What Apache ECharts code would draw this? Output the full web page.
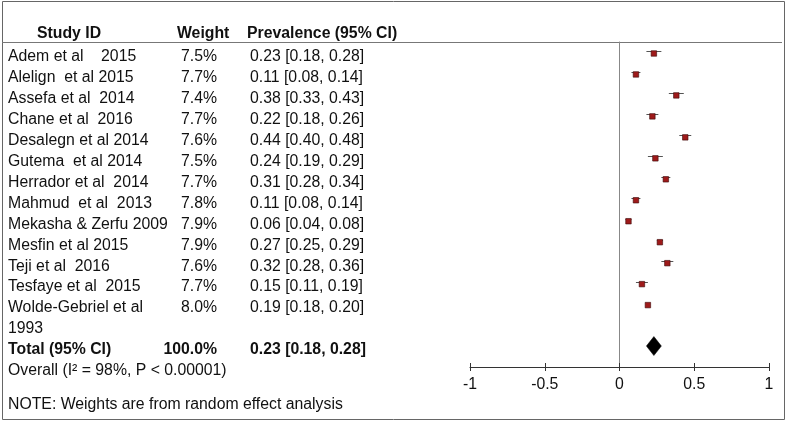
<!DOCTYPE html>
<html><head><meta charset="utf-8">
<script src="https://cdn.jsdelivr.net/npm/echarts@6/dist/echarts.min.js"></script>
<style>html,body{margin:0;padding:0;background:#fff}#c{width:787px;height:422px}</style>
</head><body><div id="c"></div>
<script>
const studyNames = [
  'Adem et al    2015',
  'Alelign  et al 2015',
  'Assefa et al  2014',
  'Chane et al  2016',
  'Desalegn et al 2014',
  'Gutema  et al 2014',
  'Herrador et al  2014',
  'Mahmud  et al  2013',
  'Mekasha & Zerfu 2009',
  'Mesfin et al 2015',
  'Teji et al  2016',
  'Tesfaye et al  2015',
  'Wolde-Gebriel et al\n1993'
];
const weights   = [7.5, 7.7, 7.4, 7.7, 7.6, 7.5, 7.7, 7.8, 7.9, 7.9, 7.6, 7.7, 8.0];
const estimates = [0.23, 0.11, 0.38, 0.22, 0.44, 0.24, 0.31, 0.11, 0.06, 0.27, 0.32, 0.15, 0.19];
const lowerCI   = [0.18, 0.08, 0.33, 0.18, 0.40, 0.19, 0.28, 0.08, 0.04, 0.25, 0.28, 0.11, 0.18];
const upperCI   = [0.28, 0.14, 0.43, 0.26, 0.48, 0.29, 0.34, 0.14, 0.08, 0.29, 0.36, 0.19, 0.20];
const totalLabel = 'Total (95% CI)';
const totalWeight = 100.0;
const totalEstimate = 0.23;
const totalLower = 0.18;
const totalUpper = 0.28;
const overallText = 'Overall (I\u00B2 = 98%, P < 0.00001)';
const noteText = 'NOTE: Weights are from random effect analysis';
const headers = ['Study ID', 'Weight', 'Prevalence (95% CI)'];
const xTicks = [-1, -0.5, 0, 0.5, 1];

const FONT = "'Liberation Sans', Arial, sans-serif";
const FS = 15.8;
const fmtPrev = (e, l, h) => e.toFixed(2) + ' [' + l.toFixed(2) + ', ' + h.toFixed(2) + ']';

// Build table rows (row index = position on the row axis)
const rows = [];
const studyRow = [];
studyNames.forEach((n, i) => {
  const parts = n.split('\n');
  studyRow.push(rows.length);
  rows.push({ name: parts[0], weight: weights[i].toFixed(1) + '%', prev: fmtPrev(estimates[i], lowerCI[i], upperCI[i]) });
  for (let k = 1; k < parts.length; k++) rows.push({ name: parts[k], weight: '', prev: '' });
});
const totalRow = rows.length;
rows.push({ name: totalLabel, weight: totalWeight.toFixed(1) + '%', prev: fmtPrev(totalEstimate, totalLower, totalUpper), bold: true });
rows.push({ name: overallText, weight: '', prev: '' });
const lastRow = rows.length - 1;

function rowText(field) {
  return function (v) {
    const r = Math.round(v);
    if (Math.abs(v - r) > 1e-6 || r < 0 || r >= rows.length) return '';
    const t = rows[r][field];
    if (!t) return '';
    return rows[r].bold ? '{b|' + t + '}' : t;
  };
}

const GRID_LEFT = 470;
function colAxis(field, margin, align) {
  return {
    type: 'value', gridIndex: 0, position: 'left', inverse: true,
    min: -0.5, max: lastRow, interval: 0.5,
    axisLine: { show: false, onZero: false }, axisTick: { show: false }, splitLine: { show: false },
    axisLabel: {
      show: true, margin: margin, align: align, fontSize: FS, color: '#111', fontFamily: FONT,
      padding: [8, 0, 0, 0], formatter: rowText(field),
      rich: { b: { fontWeight: 'bold', fontSize: FS, color: '#111', fontFamily: FONT } }
    }
  };
}

const titleStyle = { fontSize: FS, fontWeight: 'bold', color: '#111', fontFamily: FONT };
const option = {
  animation: false,
  backgroundColor: '#fff',
  title: [
    { text: headers[0], left: 37, top: 26, padding: 0, textStyle: titleStyle },
    { text: headers[1], left: 177, top: 26, padding: 0, textStyle: titleStyle },
    { text: headers[2], left: 247, top: 26, padding: 0, textStyle: titleStyle },
    { text: noteText, left: 8, top: 397, padding: 0, textStyle: { fontSize: FS, fontWeight: 'normal', color: '#111', fontFamily: FONT } }
  ],
  graphic: [
    { type: 'rect', silent: true, shape: { x: 2.5, y: 1.5, width: 782, height: 418 }, style: { fill: 'none', stroke: '#666', lineWidth: 1 } },
    { type: 'line', silent: true, shape: { x1: 2, y1: 42.5, x2: 782, y2: 42.5 }, style: { stroke: '#777', lineWidth: 1 } }
  ],
  grid: { left: GRID_LEFT, right: 18, top: 42, bottom: 55, containLabel: false },
  xAxis: [
    {
      type: 'value', position: 'bottom', min: xTicks[0], max: xTicks[xTicks.length - 1], interval: xTicks[1] - xTicks[0],
      axisLine: { show: true, onZero: false, lineStyle: { color: '#333', width: 1 } },
      axisTick: { show: true, inside: false, length: 4, lineStyle: { color: '#333', width: 1 } },
      axisLabel: { fontSize: FS, color: '#111', fontFamily: FONT, margin: 10 },
      splitLine: { show: false }
    },
    {
      type: 'value', position: 'bottom', min: xTicks[0], max: xTicks[xTicks.length - 1], interval: xTicks[1] - xTicks[0],
      axisLine: { show: false, onZero: false },
      axisTick: { show: true, inside: true, length: 4, lineStyle: { color: '#333', width: 1 } },
      axisLabel: { show: false }, splitLine: { show: false }
    }
  ],
  yAxis: [
    colAxis('name', GRID_LEFT - 8, 'left'),
    colAxis('weight', GRID_LEFT - 217, 'right'),
    colAxis('prev', GRID_LEFT - 250, 'left'),
    {
      // line of no effect: sits on x = 0
      type: 'value', gridIndex: 0, position: 'left', inverse: true,
      min: -0.5, max: lastRow, interval: 0.5,
      axisLine: { show: true, onZero: true, onZeroAxisIndex: 0, lineStyle: { color: '#888', width: 1 } },
      axisTick: { show: false }, axisLabel: { show: false }, splitLine: { show: false }
    }
  ],
  series: [
    {
      type: 'custom', xAxisIndex: 0, yAxisIndex: 0, silent: true,
      data: studyNames.map((_, i) => [lowerCI[i], upperCI[i], studyRow[i]]),
      encode: { x: [0, 1], y: 2 },
      renderItem: function (params, api) {
        const p1 = api.coord([api.value(0), api.value(2)]);
        const p2 = api.coord([api.value(1), api.value(2)]);
        const y = Math.round(p1[1]) - 0.5;
        return { type: 'line', shape: { x1: p1[0], y1: y, x2: p2[0], y2: y }, style: { stroke: '#555', lineWidth: 1 } };
      }
    },
    {
      type: 'scatter', xAxisIndex: 0, yAxisIndex: 0, silent: true,
      symbol: 'rect', symbolSize: 5.5, symbolOffset: [0, 1],
      itemStyle: { color: '#9e1a1a', borderColor: '#3a0a0a', borderWidth: 0.6, opacity: 1 },
      data: estimates.map((e, i) => [e, studyRow[i]])
    },
    {
      type: 'custom', xAxisIndex: 0, yAxisIndex: 0, silent: true,
      data: [[totalLower, totalEstimate, totalUpper, totalRow]],
      encode: { x: [0, 1, 2], y: 3 },
      renderItem: function (params, api) {
        const l = api.coord([api.value(0), api.value(3)]);
        const c = api.coord([api.value(1), api.value(3)]);
        const h = api.coord([api.value(2), api.value(3)]);
        const hh = 9.5;
        return {
          type: 'polygon',
          shape: { points: [[l[0], c[1]], [c[0], c[1] - hh], [h[0], c[1]], [c[0], c[1] + hh]] },
          style: { fill: '#000', stroke: '#000', lineWidth: 0.5 }
        };
      }
    }
  ]
};
const chart = echarts.init(document.getElementById('c'));
chart.setOption(option);
</script>
</body></html>
